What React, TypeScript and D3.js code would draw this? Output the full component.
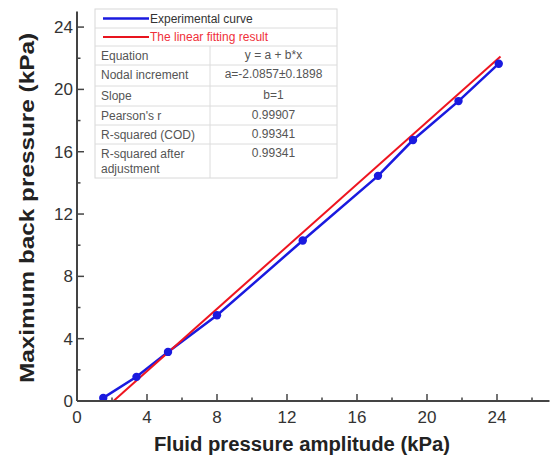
import React from "react";
import * as d3 from "d3";

const fluidAmplitude = [1.5, 3.4, 5.2, 8.0, 12.9, 17.2, 19.2, 21.8, 24.1];
const backPressure = [0.2, 1.55, 3.15, 5.5, 10.3, 14.45, 16.75, 19.25, 21.65];
const fitIntercept = -2.0857;
const fitSlope = 1;
const fitRange = [2.0857, 24.2];
const xMajorTicks = [0, 4, 8, 12, 16, 20, 24];
const xMinorTicks = [2, 6, 10, 14, 18, 22, 26];
const yMajorTicks = [0, 4, 8, 12, 16, 20, 24];
const yMinorTicks = [2, 6, 10, 14, 18, 22];
const tableLabels = ["Equation", "Nodal increment", "Slope", "Pearson's r", "R-squared (COD)", "R-squared after|adjustment"];
const tableValues = ["y = a + b*x", "a=-2.0857±0.1898", "b=1", "0.99907", "0.99341", "0.99341"];
const legendLabels = ["Experimental curve", "The linear fitting result"];

export default function App() {
  const W = 550, H = 459;
  const x = d3.scaleLinear().domain([0, 27]).range([77, 549.5]);
  const y = d3.scaleLinear().domain([0, 25]).range([401, 11.5]);
  const pts = fluidAmplitude.map((v, i) => [v, backPressure[i]] as [number, number]);
  const line = d3.line<[number, number]>().x(d => x(d[0])).y(d => y(d[1]));
  const fitPts: [number, number][] = fitRange.map(v => [v, fitIntercept + fitSlope * v]);
  const axisColor = "#444";
  const font = "Arial, 'Liberation Sans', sans-serif";

  const tL = 95, tR = 337, tDiv = 210, tTop = 9;
  const rowLines = [9, 28, 46, 65, 86, 106, 125, 144, 178];
  return (
    <svg width={W} height={H} style={{ position: "absolute", left: 0, top: 0, background: "#fff" }} fontFamily={font}>
      <rect x={0} y={0} width={W} height={H} fill="#fff" />
      <g>
        <rect x={tL} y={tTop} width={tR - tL} height={rowLines[rowLines.length - 1] - tTop} fill="#fff" stroke="#d8d8d8" strokeWidth={1} />
        {rowLines.slice(1, -1).map((ly, i) => (
          <line key={i} x1={tL} x2={tR} y1={ly} y2={ly} stroke="#dcdcdc" strokeWidth={1} />
        ))}
        <line x1={tDiv} x2={tDiv} y1={rowLines[2]} y2={rowLines[8]} stroke="#dcdcdc" strokeWidth={1} />
        <line x1={103} x2={149} y1={18.5} y2={18.5} stroke="#1a1adf" strokeWidth={2.5} />
        <text x={150} y={22.5} fontSize={12} fill="#333">{legendLabels[0]}</text>
        <line x1={103} x2={149} y1={37} y2={37} stroke="#e8141e" strokeWidth={2} />
        <text x={150} y={41} fontSize={12} fill="#f0303a">{legendLabels[1]}</text>
        {tableLabels.map((lab, i) => {
          const top = rowLines[i + 2];
          const parts = lab.split("|");
          return (
            <text key={i} x={101} y={top + 14} fontSize={12} fill="#555">
              {parts.map((p, j) => (
                <tspan key={j} x={101} dy={j === 0 ? 0 : 15}>{p}</tspan>
              ))}
            </text>
          );
        })}
        {tableValues.map((v, i) => (
          <text key={i} x={(tDiv + tR) / 2} y={rowLines[i + 2] + 13} fontSize={12} fill="#555" textAnchor="middle">{v}</text>
        ))}
      </g>
      <path d={line(pts) || ""} fill="none" stroke="#1a1adf" strokeWidth={2.5} />
      <path d={line(fitPts) || ""} fill="none" stroke="#ee1520" strokeWidth={2} />
      {pts.map((p, i) => (
        <circle key={i} cx={x(p[0])} cy={y(p[1])} r={4.2} fill="#1a1adf" />
      ))}
      <line x1={x(0)} x2={x(0)} y1={y(0)} y2={y(25)} stroke={axisColor} strokeWidth={2} />
      <line x1={x(0)} x2={x(27)} y1={y(0)} y2={y(0)} stroke={axisColor} strokeWidth={2} />
      {xMajorTicks.map(t => (
        <g key={"xm" + t}>
          <line x1={x(t)} x2={x(t)} y1={y(0)} y2={y(0) - 7} stroke={axisColor} strokeWidth={1.5} />
          <text x={x(t)} y={423} fontSize={17} fill="#333" textAnchor="middle">{t}</text>
        </g>
      ))}
      {xMinorTicks.map(t => (
        <line key={"xn" + t} x1={x(t)} x2={x(t)} y1={y(0)} y2={y(0) - 3.5} stroke={axisColor} strokeWidth={1.5} />
      ))}
      {yMajorTicks.map(t => (
        <g key={"ym" + t}>
          <line x1={x(0)} x2={x(0) + 7} y1={y(t)} y2={y(t)} stroke={axisColor} strokeWidth={1.5} />
          <text x={73} y={y(t) + 6} fontSize={17} fill="#333" textAnchor="end">{t}</text>
        </g>
      ))}
      {yMinorTicks.map(t => (
        <line key={"yn" + t} x1={x(0)} x2={x(0) + 3.5} y1={y(t)} y2={y(t)} stroke={axisColor} strokeWidth={1.5} />
      ))}
      <text x={302} y={451} fontSize={20} fontWeight="bold" fill="#222" textAnchor="middle" textLength={296} lengthAdjust="spacingAndGlyphs">Fluid pressure amplitude (kPa)</text>
      <text transform="translate(34,208) rotate(-90)" fontSize={20} fontWeight="bold" fill="#222" textAnchor="middle" textLength={350} lengthAdjust="spacingAndGlyphs">Maximum back pressure (kPa)</text>
    </svg>
  );
}
